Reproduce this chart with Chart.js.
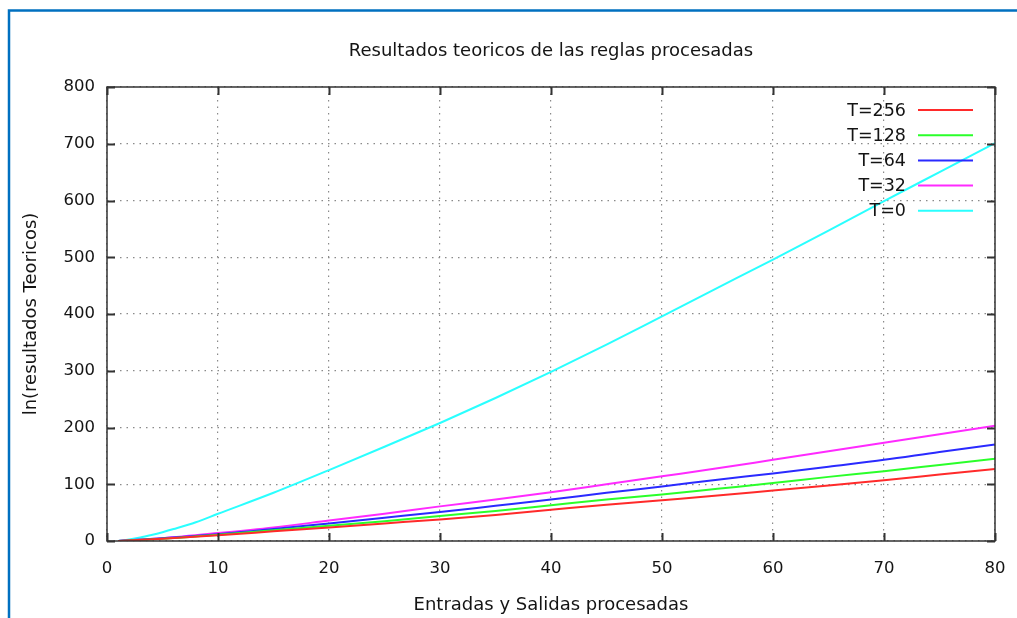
<!DOCTYPE html>
<html>
<head>
<meta charset="utf-8">
<script src="https://cdn.jsdelivr.net/npm/chart.js@4/dist/chart.umd.min.js"></script>
<style>
  html, body { margin: 0; padding: 0; background: #fff; }
  #wrap { width: 1017px; height: 618px; position: relative; }
</style>
</head>
<body>
<div id="wrap"><canvas id="c" width="1017" height="618"></canvas></div>
<script>
// Inputs/outputs processed (x axis)
const entradas = [1, 5, 10, 15, 20, 25, 30, 35, 40, 45, 50, 55, 60, 65, 70, 75, 80];
const entradasT0 = [1, 2, 3, 4, 5, 6, 8, 10, 15, 20, 25, 30, 35, 40, 45, 50, 55, 60, 65, 70, 75, 80];

// Theoretical results per temperature
const t256 = [0, 4, 10, 17, 24, 31, 38, 46, 55, 64, 72, 80, 89, 98, 107, 117, 127];
const t128 = [0, 4, 11, 19, 27, 35, 44, 53, 63, 73, 82, 92, 102, 113, 123, 134, 145];
const t64  = [0, 5, 12, 21, 31, 41, 51, 62, 73, 85, 96, 108, 119, 131, 143, 157, 170];
const t32  = [0, 5, 14, 24, 36, 48, 61, 73, 86, 100, 114, 128, 143, 158, 173, 188, 203];
const t0   = [0, 2.5, 6, 10.5, 15.5, 21, 33, 48, 85, 125, 166, 208, 252, 298, 346, 396, 446, 496, 547, 599, 650, 701];

const seriesLabels = ['T=256', 'T=128', 'T=64', 'T=32', 'T=0'];
const seriesColors = ['#ff2a2a', '#2aff2a', '#2a2aff', '#ff2aff', '#2affff'];

const xTicks = [0, 10, 20, 30, 40, 50, 60, 70, 80];
const yTicks = [0, 100, 200, 300, 400, 500, 600, 700, 800];

const titleText = 'Resultados teoricos de las reglas procesadas';
const xTitle = 'Entradas y Salidas procesadas';
const yTitle = 'ln(resultados Teoricos)';

const FONT = '"DejaVu Sans", Verdana, sans-serif';
const TEXT = '#141414';

function pts(xs, ys) { return xs.map((x, i) => ({ x: x, y: ys[i] })); }

const seriesData = [pts(entradas, t256), pts(entradas, t128), pts(entradas, t64), pts(entradas, t32), pts(entradasT0, t0)];

const datasets = seriesLabels.map((lab, i) => ({
  label: lab,
  data: seriesData[i],
  borderColor: seriesColors[i],
  backgroundColor: seriesColors[i],
  borderWidth: 2,
  pointRadius: 0,
  showLine: true,
  tension: 0.4,
  cubicInterpolationMode: 'monotone',
  fill: false
}));

// Page frame, titles, plot border with inward ticks, and legend
const decor = {
  id: 'decor',
  beforeDraw(chart) {
    const ctx = chart.ctx;
    ctx.save();
    ctx.fillStyle = '#fff';
    ctx.fillRect(0, 0, chart.width, chart.height);
    ctx.restore();
  },
  afterDatasetsDraw(chart) {
    const ctx = chart.ctx;
    const a = chart.chartArea;
    const xs = chart.scales.x, ys = chart.scales.y;
    ctx.save();
    // plot border
    ctx.strokeStyle = '#333';
    ctx.lineWidth = 1.5;
    ctx.strokeRect(a.left, a.top, a.right - a.left, a.bottom - a.top);
    // inward tick marks on all four sides
    const tl = 8;
    ctx.beginPath();
    xTicks.forEach(v => {
      const px = Math.round(xs.getPixelForValue(v)) + 0.5;
      ctx.moveTo(px, a.bottom); ctx.lineTo(px, a.bottom - tl);
      ctx.moveTo(px, a.top); ctx.lineTo(px, a.top + tl);
    });
    yTicks.forEach(v => {
      const py = Math.round(ys.getPixelForValue(v)) + 0.5;
      ctx.moveTo(a.left, py); ctx.lineTo(a.left + tl, py);
      ctx.moveTo(a.right, py); ctx.lineTo(a.right - tl, py);
    });
    ctx.lineWidth = 2;
    ctx.stroke();

    // legend: right-aligned text followed by a line sample
    ctx.font = '17.5px ' + FONT;
    ctx.textAlign = 'right';
    ctx.textBaseline = 'middle';
    chart.data.datasets.forEach((ds, i) => {
      const y = 110 + i * 25.2;
      ctx.fillStyle = TEXT;
      ctx.fillText(ds.label, 906, y + 1);
      ctx.strokeStyle = ds.borderColor;
      ctx.lineWidth = 2;
      ctx.beginPath();
      ctx.moveTo(918, y); ctx.lineTo(973, y);
      ctx.stroke();
    });

    // titles
    const cx = (a.left + a.right) / 2;
    ctx.fillStyle = TEXT;
    ctx.textAlign = 'center';
    ctx.textBaseline = 'middle';
    ctx.font = '18px ' + FONT;
    ctx.fillText(titleText, cx, 51);
    ctx.fillText(xTitle, cx, 605);
    ctx.save();
    ctx.translate(31, (a.top + a.bottom) / 2);
    ctx.rotate(-Math.PI / 2);
    ctx.fillText(yTitle, 0, 0);
    ctx.restore();

    // blue page frame
    ctx.strokeStyle = '#0070c0';
    ctx.lineWidth = 2.5;
    ctx.beginPath();
    ctx.moveTo(9, chart.height);
    ctx.lineTo(9, 10.5);
    ctx.lineTo(chart.width, 10.5);
    ctx.stroke();
    ctx.restore();
  }
};

new Chart(document.getElementById('c'), {
  type: 'scatter',
  data: { datasets: datasets },
  plugins: [decor],
  options: {
    responsive: false,
    animation: false,
    layout: { padding: { top: 87, right: 22, left: 0, bottom: 0 } },
    plugins: { legend: { display: false }, title: { display: false }, tooltip: { enabled: false } },
    scales: {
      x: {
        type: 'linear',
        min: 0, max: 80,
        afterBuildTicks(scale) { scale.ticks = xTicks.map(v => ({ value: v })); },
        afterFit(scale) {
          scale.height = 77;
          scale.paddingLeft = 0;
          scale.paddingRight = 0;
        },
        grid: { color: '#8a8a8a', lineWidth: 1.2, drawTicks: false },
        border: { display: false, dash: [1.5, 5] },
        ticks: { padding: 18, color: TEXT, font: { family: FONT, size: 16.5 }, maxRotation: 0 }
      },
      y: {
        type: 'linear',
        min: 0, max: 800,
        afterBuildTicks(scale) { scale.ticks = yTicks.map(v => ({ value: v })); },
        afterFit(scale) {
          scale.width = 107;
          scale.paddingTop = 0;
          scale.paddingBottom = 0;
        },
        grid: { color: '#8a8a8a', lineWidth: 1.2, drawTicks: false },
        border: { display: false, dash: [1.5, 5] },
        ticks: { padding: 12, color: TEXT, font: { family: FONT, size: 16.5 } }
      }
    }
  }
});
</script>
</body>
</html>
